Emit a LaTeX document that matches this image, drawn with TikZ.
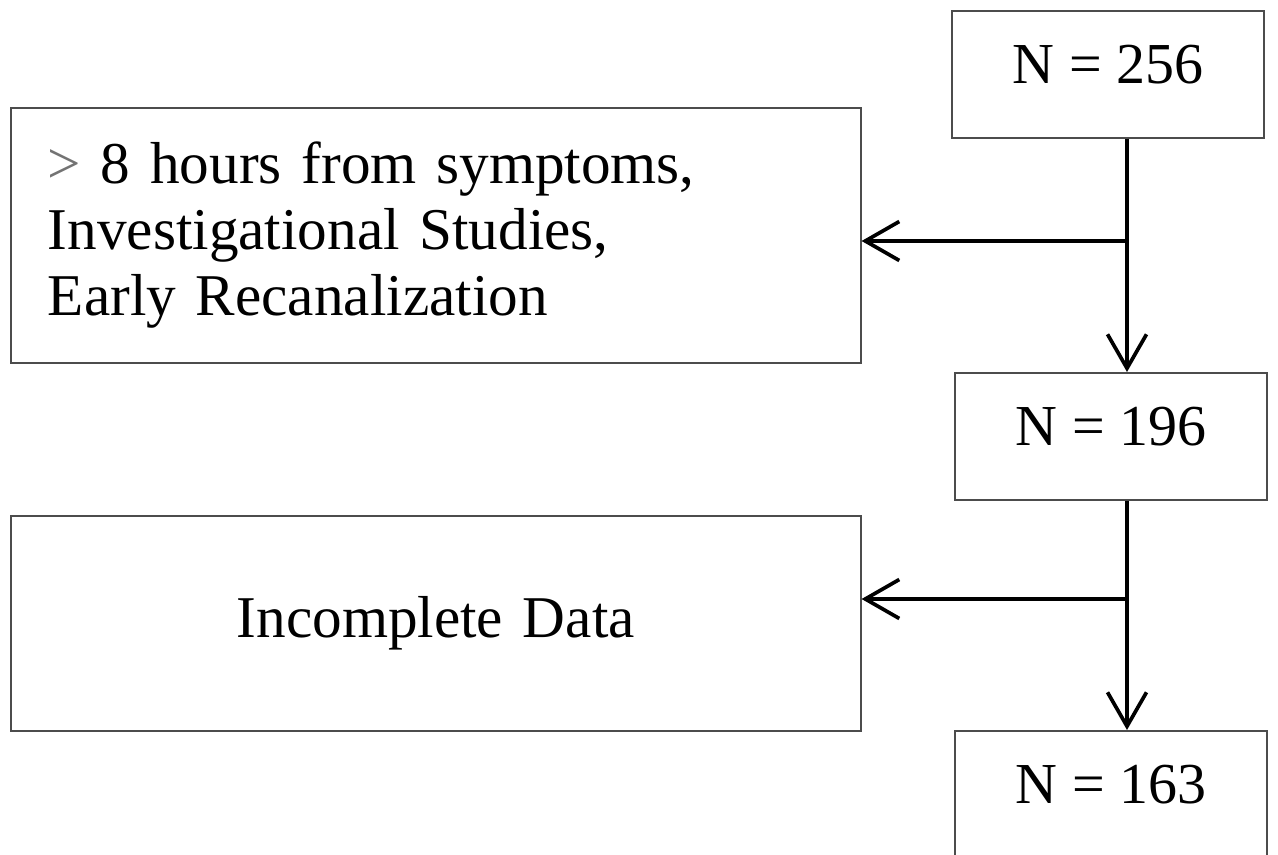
\documentclass[tikz,border=0pt]{standalone}
\usepackage{fontspec}
\setmainfont{Liberation Serif}
\usetikzlibrary{arrows.meta}

\begin{document}
\begin{tikzpicture}[x=0.02cm, y=-0.02cm,
        countbox/.style={draw=black!70, line width=1pt, minimum width=6.24cm, inner sep=0pt,
            text height=1.46cm, text depth=1.08cm, font=\fontsize{33}{38}\selectfont},
        exclbox/.style={draw=black!70, line width=1pt, text width=15.52cm, inner xsep=0.74cm,
            font=\fontsize{33.7}{37.5}\selectfont},
        flow/.style={line width=1.9pt, -{Straight Barb[length=0.68cm, width=0.78cm, line width=2.1pt]}}]
            % Page frame
            \useasboundingbox (0,0) rectangle (1278,855);

            % Patient counts (right column)
            \node[countbox, anchor=north] (n256) at (1108,10) {N = 256};
            \node[countbox, anchor=north] (n196) at (1111,372) {N = 196};
            \node[countbox, anchor=north] (n163) at (1111,730) {N = 163};

            % Exclusions (left column)
            \node[exclbox, anchor=north west, minimum height=5.1cm, align=left] (excl1) at (10,107)
                {\textcolor{black!55}{>} 8 hours from symptoms,\\Investigational Studies,\\Early Recanalization};
            \node[exclbox, anchor=north west, minimum height=4.3cm, align=center] (excl2) at (10,515)
                {Incomplete Data};

            % Trunk and branch points
            \coordinate (trunk) at (1127,0);
            \coordinate (j1) at (1127,241);
            \coordinate (j2) at (1127,599);

            % Flow down
            \draw[flow] (n256.south -| trunk) -- (n196.north -| trunk);
            \draw[flow] (n196.south -| trunk) -- (n163.north -| trunk);

            % Flow out to exclusions
            \draw[flow] (j1) -- (j1 -| excl1.east);
            \draw[flow] (j2) -- (j2 -| excl2.east);
        \end{tikzpicture}
\end{document}
